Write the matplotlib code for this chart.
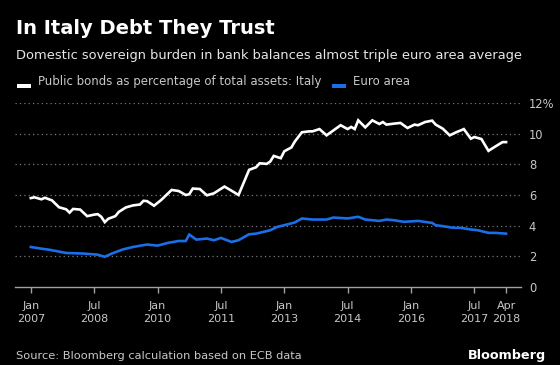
#!/usr/bin/env python3
# Bloomberg-style dark chart: Italian banks' holdings of public bonds vs
# euro area average, as % of total assets (monthly, Jan 2007 - Apr 2018).
import matplotlib.pyplot as plt
from matplotlib.patches import Rectangle

# --- data ---
italy_dates = [
    "2007-01", "2007-02", "2007-04", "2007-05", "2007-07", "2007-09", "2007-11",
    "2007-12", "2008-01", "2008-03", "2008-05", "2008-07", "2008-08", "2008-09",
    "2008-10", "2008-11", "2009-01", "2009-02", "2009-04", "2009-06", "2009-08",
    "2009-09", "2009-10", "2009-12", "2010-02", "2010-05", "2010-07", "2010-09",
    "2010-10", "2010-11", "2011-01", "2011-03", "2011-05", "2011-08", "2011-10",
    "2011-12", "2012-03", "2012-05", "2012-06", "2012-08", "2012-09", "2012-10",
    "2012-12", "2013-01", "2013-03", "2013-04", "2013-06", "2013-08", "2013-09",
    "2013-11", "2014-01", "2014-03", "2014-05", "2014-07", "2014-08", "2014-09",
    "2014-10", "2014-12", "2015-02", "2015-04", "2015-05", "2015-06", "2015-08",
    "2015-10", "2015-12", "2016-02", "2016-03", "2016-05", "2016-07", "2016-08",
    "2016-10", "2016-12", "2017-02", "2017-03", "2017-04", "2017-06", "2017-07",
    "2017-09", "2017-11", "2018-01", "2018-03", "2018-04",
]
italy_vals = [
    5.80, 5.85, 5.72, 5.82, 5.65, 5.20, 5.07,
    4.85, 5.09, 5.05, 4.62, 4.72, 4.75, 4.58,
    4.23, 4.45, 4.62, 4.90, 5.19, 5.32, 5.38,
    5.62, 5.60, 5.30, 5.67, 6.33, 6.26, 6.00,
    6.05, 6.42, 6.39, 5.98, 6.11, 6.55, 6.28,
    6.00, 7.64, 7.81, 8.07, 8.03, 8.18, 8.55,
    8.40, 8.85, 9.10, 9.49, 10.09, 10.15, 10.15,
    10.30, 9.89, 10.22, 10.55, 10.30, 10.44, 10.30,
    10.87, 10.41, 10.87, 10.63, 10.76, 10.59, 10.65,
    10.70, 10.37, 10.59, 10.55, 10.76, 10.85, 10.59,
    10.33, 9.89, 10.11, 10.20, 10.30, 9.67, 9.78,
    9.65, 8.88, 9.17, 9.45, 9.45,
]

euro_dates = [
    "2007-01", "2007-04", "2007-06", "2007-11", "2008-04", "2008-08", "2008-10",
    "2008-12", "2009-03", "2009-06", "2009-10", "2010-01", "2010-04", "2010-07",
    "2010-09", "2010-10", "2010-12", "2011-03", "2011-05", "2011-07", "2011-10",
    "2011-12", "2012-03", "2012-05", "2012-07", "2012-09", "2012-11", "2013-01",
    "2013-04", "2013-06", "2013-09", "2014-01", "2014-03", "2014-07", "2014-10",
    "2014-12", "2015-04", "2015-06", "2015-08", "2015-11", "2016-03", "2016-07",
    "2016-08", "2016-10", "2017-01", "2017-03", "2017-06", "2017-08", "2017-11",
    "2018-01", "2018-04",
]
euro_vals = [
    2.61, 2.50, 2.44, 2.22, 2.18, 2.11, 1.97,
    2.18, 2.44, 2.61, 2.77, 2.70, 2.88, 3.00,
    3.00, 3.42, 3.09, 3.16, 3.05, 3.20, 2.94,
    3.05, 3.44, 3.48, 3.59, 3.70, 3.92, 4.03,
    4.21, 4.47, 4.40, 4.40, 4.53, 4.47, 4.58,
    4.40, 4.31, 4.40, 4.36, 4.25, 4.31, 4.18,
    4.03, 3.97, 3.86, 3.86, 3.75, 3.70, 3.53,
    3.53, 3.48,
]

tick_dates = ["2007-01", "2008-07", "2010-01", "2011-07", "2013-01",
              "2014-07", "2016-01", "2017-07", "2018-04"]
tick_labels = ["Jan\n2007", "Jul\n2008", "Jan\n2010", "Jul\n2011", "Jan\n2013",
               "Jul\n2014", "Jan\n2016", "Jul\n2017", "Apr\n2018"]
y_ticks = [0, 2, 4, 6, 8, 10, 12]
y_labels = ["0", "2", "4", "6", "8", "10", "12%"]


def month_index(s):
    y, m = s.split("-")
    return (int(y) - 2007) * 12 + int(m) - 1


BG = "black"
WHITE = "#ffffff"
BLUE = "#1a6ee6"
GREY = "#c8c8c8"
W, H = 560, 365

fig = plt.figure(figsize=(W / 100, H / 100), dpi=100, facecolor=BG)
ax = fig.add_axes([15 / W, 1 - 287 / H, 505.5 / W, 184 / H], facecolor=BG)

ax.plot([month_index(d) for d in italy_dates], italy_vals, color=WHITE,
        lw=1.9, solid_joinstyle="miter", zorder=3)
ax.plot([month_index(d) for d in euro_dates], euro_vals, color=BLUE,
        lw=1.9, solid_joinstyle="miter", zorder=3)

ax.set_xlim(-4.5, 139.1)
ax.set_ylim(0, 12)

for s in ["top", "right", "left"]:
    ax.spines[s].set_visible(False)
ax.spines["bottom"].set_color("#a0a0a0")
ax.spines["bottom"].set_linewidth(1.0)

ax.set_xticks([month_index(d) for d in tick_dates])
ax.set_xticklabels(tick_labels, color=GREY, fontsize=8, linespacing=1.45)
ax.tick_params(axis="x", length=4, width=1, color="#a0a0a0", pad=6)

ax.yaxis.tick_right()
ax.set_yticks(y_ticks)
ax.set_yticklabels(y_labels, color=GREY, fontsize=8.3)
ax.tick_params(axis="y", length=0, pad=6)
for t in ax.get_yticklabels():
    t.set_horizontalalignment("left")

for y in y_ticks[1:]:
    ax.axhline(y, color="#7a7a7a", lw=0.9, linestyle=(0, (1, 2.5)), zorder=1)

# header
fig.text(16 / W, 1 - 34 / H, "In Italy Debt They Trust", color=WHITE,
         fontsize=14, fontweight="bold", ha="left", va="baseline")
fig.text(16 / W, 1 - 59 / H,
         "Domestic sovereign burden in bank balances almost triple euro area average",
         color="#e6e6e6", fontsize=9.4, ha="left", va="baseline")

# legend: underscore-style swatches sitting on the text baseline
fig.add_artist(Rectangle((17 / W, 1 - 88 / H), 14 / W, 4 / H,
                         transform=fig.transFigure, color=WHITE, lw=0))
fig.text(38 / W, 1 - 85 / H, "Public bonds as percentage of total assets: Italy",
         color=GREY, fontsize=8.5, ha="left", va="baseline")
fig.add_artist(Rectangle((332 / W, 1 - 88 / H), 14 / W, 4 / H,
                         transform=fig.transFigure, color=BLUE, lw=0))
fig.text(353 / W, 1 - 85 / H, "Euro area",
         color=GREY, fontsize=8.5, ha="left", va="baseline")

# footer
fig.text(16 / W, 1 - 359 / H, "Source: Bloomberg calculation based on ECB data",
         color=GREY, fontsize=8.2, ha="left", va="baseline")
fig.text(546 / W, 1 - 359 / H, "Bloomberg", color=WHITE, fontsize=9.2,
         fontweight="bold", ha="right", va="baseline")

fig.savefig("out.png", dpi=100, facecolor=BG)
